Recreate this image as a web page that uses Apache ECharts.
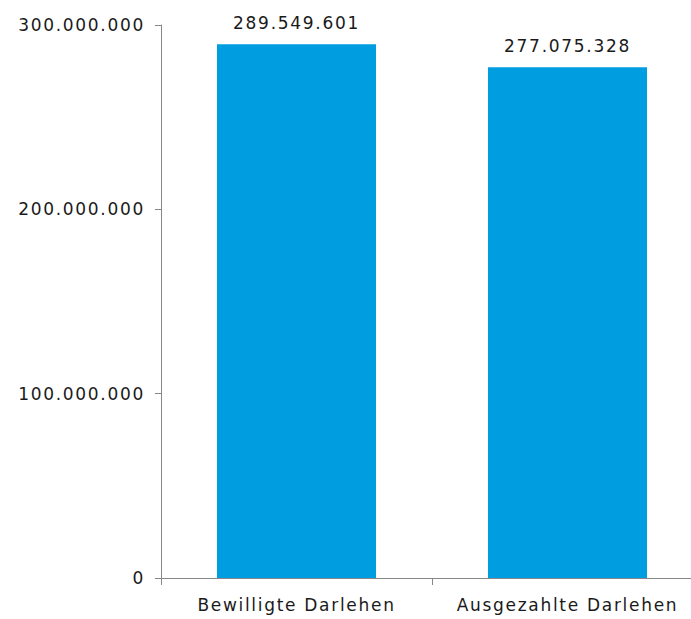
<!DOCTYPE html>
<html>
<head>
<meta charset="utf-8">
<script src="https://cdn.jsdelivr.net/npm/echarts@6/dist/echarts.min.js"></script>
<style>
html,body{margin:0;padding:0;background:#fff;}
#c{width:691px;height:619px;}
#c svg text{letter-spacing:1.7px;}
</style>
</head>
<body>
<div id="c"></div>
<script>
var categories = ['Bewilligte Darlehen', 'Ausgezahlte Darlehen'];
var values = [289549601, 277075328];
var yTicks = [0, 100000000, 200000000, 300000000];

function fmt(v) {
  return String(Math.round(v)).replace(/\B(?=(\d{3})+(?!\d))/g, '.');
}

var chart = echarts.init(document.getElementById('c'), null, {renderer: 'svg'});
var FONT = '"DejaVu Sans", Verdana, sans-serif';
chart.setOption({
  animation: false,
  backgroundColor: '#ffffff',
  grid: {left: 161, width: 542, top: 25, bottom: 41, containLabel: false, outerBoundsMode: 'none'},
  xAxis: {
    type: 'category',
    data: categories,
    axisLine: {lineStyle: {color: '#878787', width: 1}},
    axisTick: {show: true, length: 7, alignWithLabel: false, lineStyle: {color: '#878787'}},
    axisLabel: {color: '#1a1a1a', fontSize: 17, fontFamily: FONT, margin: 18}
  },
  yAxis: {
    type: 'value',
    min: yTicks[0],
    max: yTicks[yTicks.length - 1],
    interval: yTicks[1] - yTicks[0],
    splitLine: {show: false},
    axisLine: {show: true, lineStyle: {color: '#878787', width: 1}},
    axisTick: {show: true, length: 6, lineStyle: {color: '#878787'}},
    axisLabel: {color: '#1a1a1a', fontSize: 17, fontFamily: FONT, margin: 16, formatter: fmt}
  },
  series: [{
    type: 'bar',
    data: values,
    barWidth: '58.7%',
    itemStyle: {color: '#009ee0'},
    label: {
      show: true,
      position: 'top',
      distance: 13,
      color: '#1a1a1a',
      fontSize: 17,
      fontFamily: FONT,
      formatter: function (p) { return fmt(p.value); }
    }
  }]
});
</script>
</body>
</html>
